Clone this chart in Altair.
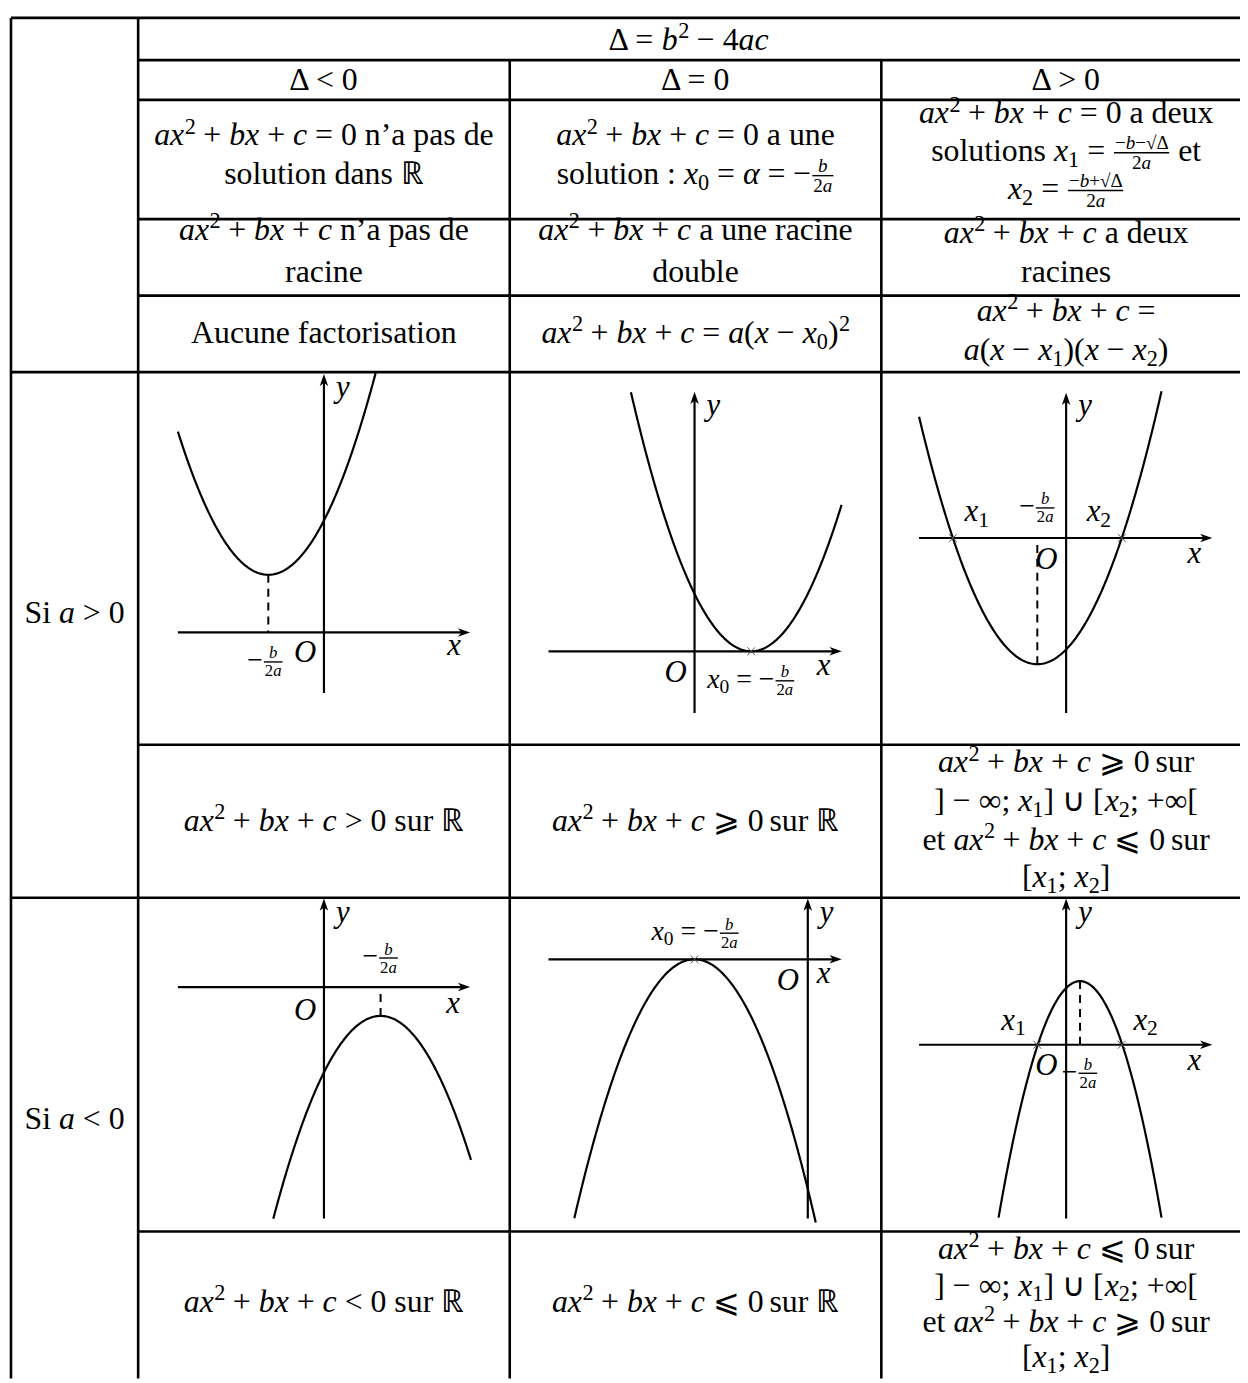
import altair as alt
import numpy as np
import pandas as pd

FONT = "Liberation Serif"
S = 32    # table text size
GS = 31   # graph label size
FS = 28   # graph fraction-label size

# ---------------- table content ----------------
TEXT_ITEMS = [
    [("m", "Δ = b² − 4ac")],
    [("m", "Δ < 0")], [("m", "Δ = 0")], [("m", "Δ > 0")],
    [("m", "ax² + bx + c = 0"), ("t", " n’a pas de")],
    [("t", "solution dans ℝ")],
    [("m", "ax² + bx + c = 0"), ("t", " a une")],
    [("t", "solution : "), ("m", "x₀ = α = −"), ("f", "b", "2a")],
    [("m", "ax² + bx + c = 0"), ("t", " a deux")],
    [("t", "solutions "), ("m", "x₁ = "), ("f", "−b−√Δ", "2a"), ("t", " et")],
    [("m", "x₂ = "), ("f", "−b+√Δ", "2a")],
    [("m", "ax² + bx + c"), ("t", " n’a pas de")],
    [("t", "racine")],
    [("m", "ax² + bx + c"), ("t", " a une racine")],
    [("t", "double")],
    [("m", "ax² + bx + c"), ("t", " a deux")],
    [("t", "racines")],
    [("t", "Aucune factorisation")],
    [("m", "ax² + bx + c = a(x − x₀)²")],
    [("m", "ax² + bx + c =")],
    [("m", "a(x − x₁)(x − x₂)")],
    [("t", "Si "), ("m", "a > 0")],
    [("m", "ax² + bx + c > 0"), ("t", " sur ℝ")],
    [("m", "ax² + bx + c ⩾ 0"), ("t", " sur ℝ")],
    [("m", "ax² + bx + c ⩾ 0"), ("t", " sur")],
    [("m", "] − ∞; x₁] ∪ [x₂; +∞[")],
    [("t", "et "), ("m", "ax² + bx + c ⩽ 0"), ("t", " sur")],
    [("m", "[x₁; x₂]")],
    [("t", "Si "), ("m", "a < 0")],
    [("m", "ax² + bx + c < 0"), ("t", " sur ℝ")],
    [("m", "ax² + bx + c ⩽ 0"), ("t", " sur ℝ")],
    [("m", "ax² + bx + c ⩽ 0"), ("t", " sur")],
    [("m", "] − ∞; x₁] ∪ [x₂; +∞[")],
    [("t", "et "), ("m", "ax² + bx + c ⩾ 0"), ("t", " sur")],
    [("m", "[x₁; x₂]")],
]
# layout: (center x, center y) of each line
TEXT_POS = [
    (693, 36), (326, 76.5), (700, 76.5), (1073, 76.5),
    (326, 132), (326, 171), (700, 132), (700, 171),
    (1073, 110), (1073, 148), (1073, 186),
    (326, 227), (326, 270), (700, 227), (700, 270), (1073, 230), (1073, 270),
    (326, 331), (700, 331), (1073, 308.5), (1073, 348.5),
    (75, 613.4),
    (326, 822), (700, 822), (1073, 763), (1073, 802), (1073, 841), (1073, 879),
    (75, 1122.4),
    (326, 1306), (700, 1306), (1073, 1253), (1073, 1290), (1073, 1327), (1073, 1362),
]

# ---------------- graph labels ----------------
FRAC = ("f", "b", "2a")
LABEL_ITEMS = [
    [("m", "y")], [("m", "O")], [("m", "x")], [("t", "−"), FRAC],
    [("m", "y")], [("m", "O")], [("m", "x")], [("m", "x₀ = −"), FRAC],
    [("m", "y")], [("m", "x₁")], [("m", "x₂")], [("t", "−"), FRAC], [("m", "O")], [("m", "x")],
    [("m", "y")], [("t", "−"), FRAC], [("m", "O")], [("m", "x")],
    [("m", "x₀ = −"), FRAC], [("m", "y")], [("m", "O")], [("m", "x")],
    [("m", "y")], [("m", "x₁")], [("m", "x₂")], [("m", "O")], [("t", "−"), FRAC], [("m", "x")],
]
# layout: (center x, baseline y, size)
LABEL_POS = [
    (345, 395, GS), (307, 662, GS), (457, 655, GS), (267, 669, FS),
    (718, 413, GS), (680, 682, GS), (829, 675, GS), (756, 688, FS),
    (1092, 413, GS), (983, 520, GS), (1106, 520, GS), (1044, 514, FS), (1053, 568, GS), (1202, 562, GS),
    (345, 923, GS), (383, 967, FS), (307, 1022, GS), (456, 1015, GS),
    (700, 942, FS), (832, 923, GS), (793, 992, GS), (829, 985, GS),
    (1092, 923, GS), (1020, 1032, GS), (1153, 1032, GS), (1053, 1077, GS), (1087, 1083, FS), (1202, 1072, GS),
]

# ---------------- parabolas (pixel units) ----------------
PANELS    = ["a>0 Δ<0", "a>0 Δ=0", "a>0 Δ>0", "a<0 Δ<0", "a<0 Δ=0", "a<0 Δ>0"]
VERTEX_X  = [270, 756, 1044, 383, 699, 1087]
VERTEX_Y  = [574, 651, 664, 1018, 961, 983]
CURV      = [0.0174, 0.0178, 0.01758, -0.0175, -0.0178, -0.0354]
X_FROM    = [179, 635, 925, 275, 578, 1005]
X_TO      = [378, 847, 1169, 474, 821, 1169]
AXIS_X_Y    = [632, 651, 537, 989, 961, 1047]
AXIS_X_FROM = [179, 552, 925, 179, 552, 925]
AXIS_X_TO   = [473, 847, 1220, 473, 847, 1220]
AXIS_Y_X    = [326, 699, 1073, 326, 813, 1073]
AXIS_Y_TOP  = [372, 390, 391, 900, 900, 900]
AXIS_Y_BOT  = [693, 713, 713, 1222, 1222, 1222]
DASHED      = [True, False, True, True, False, True]
MARKS_X = [756, 959, 1129, 699, 1044, 1129]
MARKS_Y = [651, 537, 537, 961, 1047, 1047]

# ---------------- table grid ----------------
H_Y  = [13.5, 56, 96, 216, 293, 370, 745, 899, 1235]
H_X0 = [11, 139, 139, 139, 139, 11, 139, 11, 139]
V_X  = [11, 139, 513, 887]
V_Y0 = [13.5, 13.5, 56, 56]
EDGE_X, EDGE_Y = 1248, 1383

# ---------------- text layout helpers (Times-metric advance widths) ----------------
REG = {' ': 250, 'a': 444, 'b': 500, 'c': 444, 'd': 500, 'e': 444, 'f': 333, 'g': 500, 'h': 500,
       'i': 278, 'j': 278, 'k': 500, 'l': 278, 'm': 778, 'n': 500, 'o': 500, 'p': 500, 'q': 500,
       'r': 333, 's': 389, 't': 278, 'u': 500, 'v': 500, 'w': 722, 'x': 500, 'y': 500, 'z': 444,
       'A': 722, 'S': 556, 'O': 722, '(': 333, ')': 333, '[': 333, ']': 333, ';': 278, ':': 278,
       '’': 333, '+': 564, '=': 564, '<': 564, '>': 564, '−': 564, 'Δ': 612, 'ℝ': 722,
       '∞': 713, '∪': 760, '⩾': 780, '⩽': 780, '√': 549}
ITA = {'a': 500, 'b': 500, 'c': 444, 'x': 444, 'y': 444, 'O': 722, 'α': 520}
SUBS = '₀₁₂'


def cw(ch, italic):
    if italic:
        return ITA.get(ch, REG.get(ch, 500))
    return REG.get(ch, 500)


def runs_of(kind, s):
    if kind == "t":
        return [("r", s)]
    out = []
    for ch in s:
        if ch == '²':
            cls, t = "sup", "2"
        elif ch in SUBS:
            cls, t = "sub", str(SUBS.index(ch))
        elif (ch.isascii() and ch.isalpha()) or ch == 'α':
            cls, t = "i", ch
        else:
            cls, t = "r", ch
        if out and out[-1][0] == cls and cls in ("r", "i"):
            out[-1] = (cls, out[-1][1] + t)
        else:
            out.append((cls, t))
    return out


def run_width(cls, t, size):
    if cls in ("sup", "sub"):
        return sum(cw(c, False) for c in t) * size * 0.7 / 1000
    return sum(cw(c, cls == "i") for c in t) * size / 1000


def emit_runs(runs, x, base, size, texts):
    for cls, t in runs:
        w = run_width(cls, t, size)
        if cls == "sup":
            texts.append(dict(x=x + 0.5, y=base - 0.36 * size, text=t, size=0.7 * size, it=False))
        elif cls == "sub":
            texts.append(dict(x=x, y=base + 0.18 * size, text=t, size=0.7 * size, it=False))
        else:
            lead = len(t) - len(t.lstrip(' '))
            st = t.strip(' ')
            if st:
                texts.append(dict(x=x + lead * 250 * size / 1000, y=base, text=st,
                                  size=size, it=(cls == "i")))
        x += w
    return x


def item_width(item, size):
    if item[0] == "f":
        fs = size * 0.6
        wn = sum(run_width(c, t, fs) for c, t in runs_of("m", item[1]))
        wd = sum(run_width(c, t, fs) for c, t in runs_of("m", item[2]))
        return max(wn, wd) + 4
    return sum(run_width(c, t, size) for c, t in runs_of(item[0], item[1]))


def layout_line(cx, base, items, size, texts, bars):
    total = sum(item_width(it, size) for it in items)
    x = cx - total / 2
    for it in items:
        if it[0] == "f":
            fs = size * 0.6
            w = item_width(it, size)
            bar = base - 0.26 * size
            rn, rd = runs_of("m", it[1]), runs_of("m", it[2])
            wn = sum(run_width(c, t, fs) for c, t in rn)
            wd = sum(run_width(c, t, fs) for c, t in rd)
            emit_runs(rn, x + (w - wn) / 2, bar - 3.5, fs, texts)
            emit_runs(rd, x + (w - wd) / 2, bar + 0.72 * fs + 2.5, fs, texts)
            bars.append(dict(x=x + 1, x2=x + w - 1, y=bar))
            x += w
        else:
            x = emit_runs(runs_of(it[0], it[1]), x, base, size, texts)


texts, bars = [], []
for items, (cx, yc) in zip(TEXT_ITEMS, TEXT_POS):
    layout_line(cx, yc + 0.3 * S, items, S, texts, bars)
for items, (cx, base, size) in zip(LABEL_ITEMS, LABEL_POS):
    layout_line(cx, base, items, size, texts, bars)
tdf = pd.DataFrame(texts)
bdf = pd.DataFrame(bars)

# ---------------- geometry frames ----------------
grid = [dict(x=x0, x2=EDGE_X, y=y, y2=y, w=2.6) for y, x0 in zip(H_Y, H_X0)]
grid += [dict(x=x, x2=x, y=y0, y2=EDGE_Y, w=2.6) for x, y0 in zip(V_X, V_Y0)]
gdf = pd.DataFrame(grid)

axes = []
for i in range(6):
    axes.append(dict(x=AXIS_X_FROM[i], x2=AXIS_X_TO[i] - 4, y=AXIS_X_Y[i], y2=AXIS_X_Y[i]))
    axes.append(dict(x=AXIS_Y_X[i], x2=AXIS_Y_X[i], y=AXIS_Y_TOP[i] + 4, y2=AXIS_Y_BOT[i]))
adf = pd.DataFrame(axes)

arr_r = pd.DataFrame(dict(x=[t - 6 for t in AXIS_X_TO], y=AXIS_X_Y))
arr_u = pd.DataFrame(dict(x=AXIS_Y_X, y=[t + 6 for t in AXIS_Y_TOP]))

dash = pd.DataFrame([dict(x=VERTEX_X[i], y=VERTEX_Y[i], y2=AXIS_X_Y[i])
                     for i in range(6) if DASHED[i]])

curves = []
for i in range(6):
    xs_ = np.linspace(X_FROM[i], X_TO[i], 200)
    ys_ = VERTEX_Y[i] - CURV[i] * (xs_ - VERTEX_X[i]) ** 2
    for j, (a, b) in enumerate(zip(xs_, ys_)):
        curves.append(dict(panel=PANELS[i], i=j, x=a, y=b))
cdf = pd.DataFrame(curves)

mdf = pd.DataFrame(dict(x=MARKS_X, y=MARKS_Y))

# ---------------- chart ----------------
XS = alt.Scale(domain=[8, 1248], nice=False, zero=False)
YS = alt.Scale(domain=[8, 1383], nice=False, zero=False, reverse=True)


def X(f="x"):
    return alt.X(f"{f}:Q", scale=XS, axis=None)


def Y(f="y"):
    return alt.Y(f"{f}:Q", scale=YS, axis=None)


grid_l = alt.Chart(gdf).mark_rule(color="black").encode(
    x=X(), x2="x2:Q", y=Y(), y2="y2:Q", size=alt.Size("w:Q", scale=None))
axes_l = alt.Chart(adf).mark_rule(color="black", strokeWidth=2.2).encode(
    x=X(), x2="x2:Q", y=Y(), y2="y2:Q")
dash_l = alt.Chart(dash).mark_rule(color="black", strokeWidth=2, strokeDash=[8, 6]).encode(
    x=X(), y=Y(), y2="y2:Q")
curve_l = alt.Chart(cdf).mark_line(color="black", strokeWidth=2.2).encode(
    x=X(), y=Y(), detail="panel:N", order="i:Q")
arr_r_l = alt.Chart(arr_r).mark_point(
    shape="M1,0L-1,-0.7L-0.45,0L-1,0.7Z", filled=True, size=150, color="black", opacity=1
).encode(x=X(), y=Y())
arr_u_l = alt.Chart(arr_u).mark_point(
    shape="M0,-1L-0.7,1L0,0.45L0.7,1Z", filled=True, size=150, color="black", opacity=1
).encode(x=X(), y=Y())
marks_l = alt.Chart(mdf).mark_point(
    shape="M-1,-1L1,1M-1,1L1,-1", filled=False, size=64, color="#555", strokeWidth=1, opacity=1
).encode(x=X(), y=Y())
bars_l = alt.Chart(bdf).mark_rule(color="black", strokeWidth=1.4).encode(
    x=X(), x2="x2:Q", y=Y())
txt_r = alt.Chart(tdf[~tdf.it]).mark_text(
    font=FONT, align="left", baseline="alphabetic", color="black"
).encode(x=X(), y=Y(), text="text:N", size=alt.Size("size:Q", scale=None))
txt_i = alt.Chart(tdf[tdf.it]).mark_text(
    font=FONT, fontStyle="italic", align="left", baseline="alphabetic", color="black"
).encode(x=X(), y=Y(), text="text:N", size=alt.Size("size:Q", scale=None))

chart = alt.layer(
    grid_l, axes_l, dash_l, curve_l, arr_r_l, arr_u_l, marks_l, bars_l, txt_r, txt_i
).properties(
    width=1240, height=1375, autosize=alt.AutoSizeParams(type="none"), padding=0,
    background="white"
).configure_view(stroke=None)

chart.save("out.html", embed_options={"renderer": "svg", "actions": False})
